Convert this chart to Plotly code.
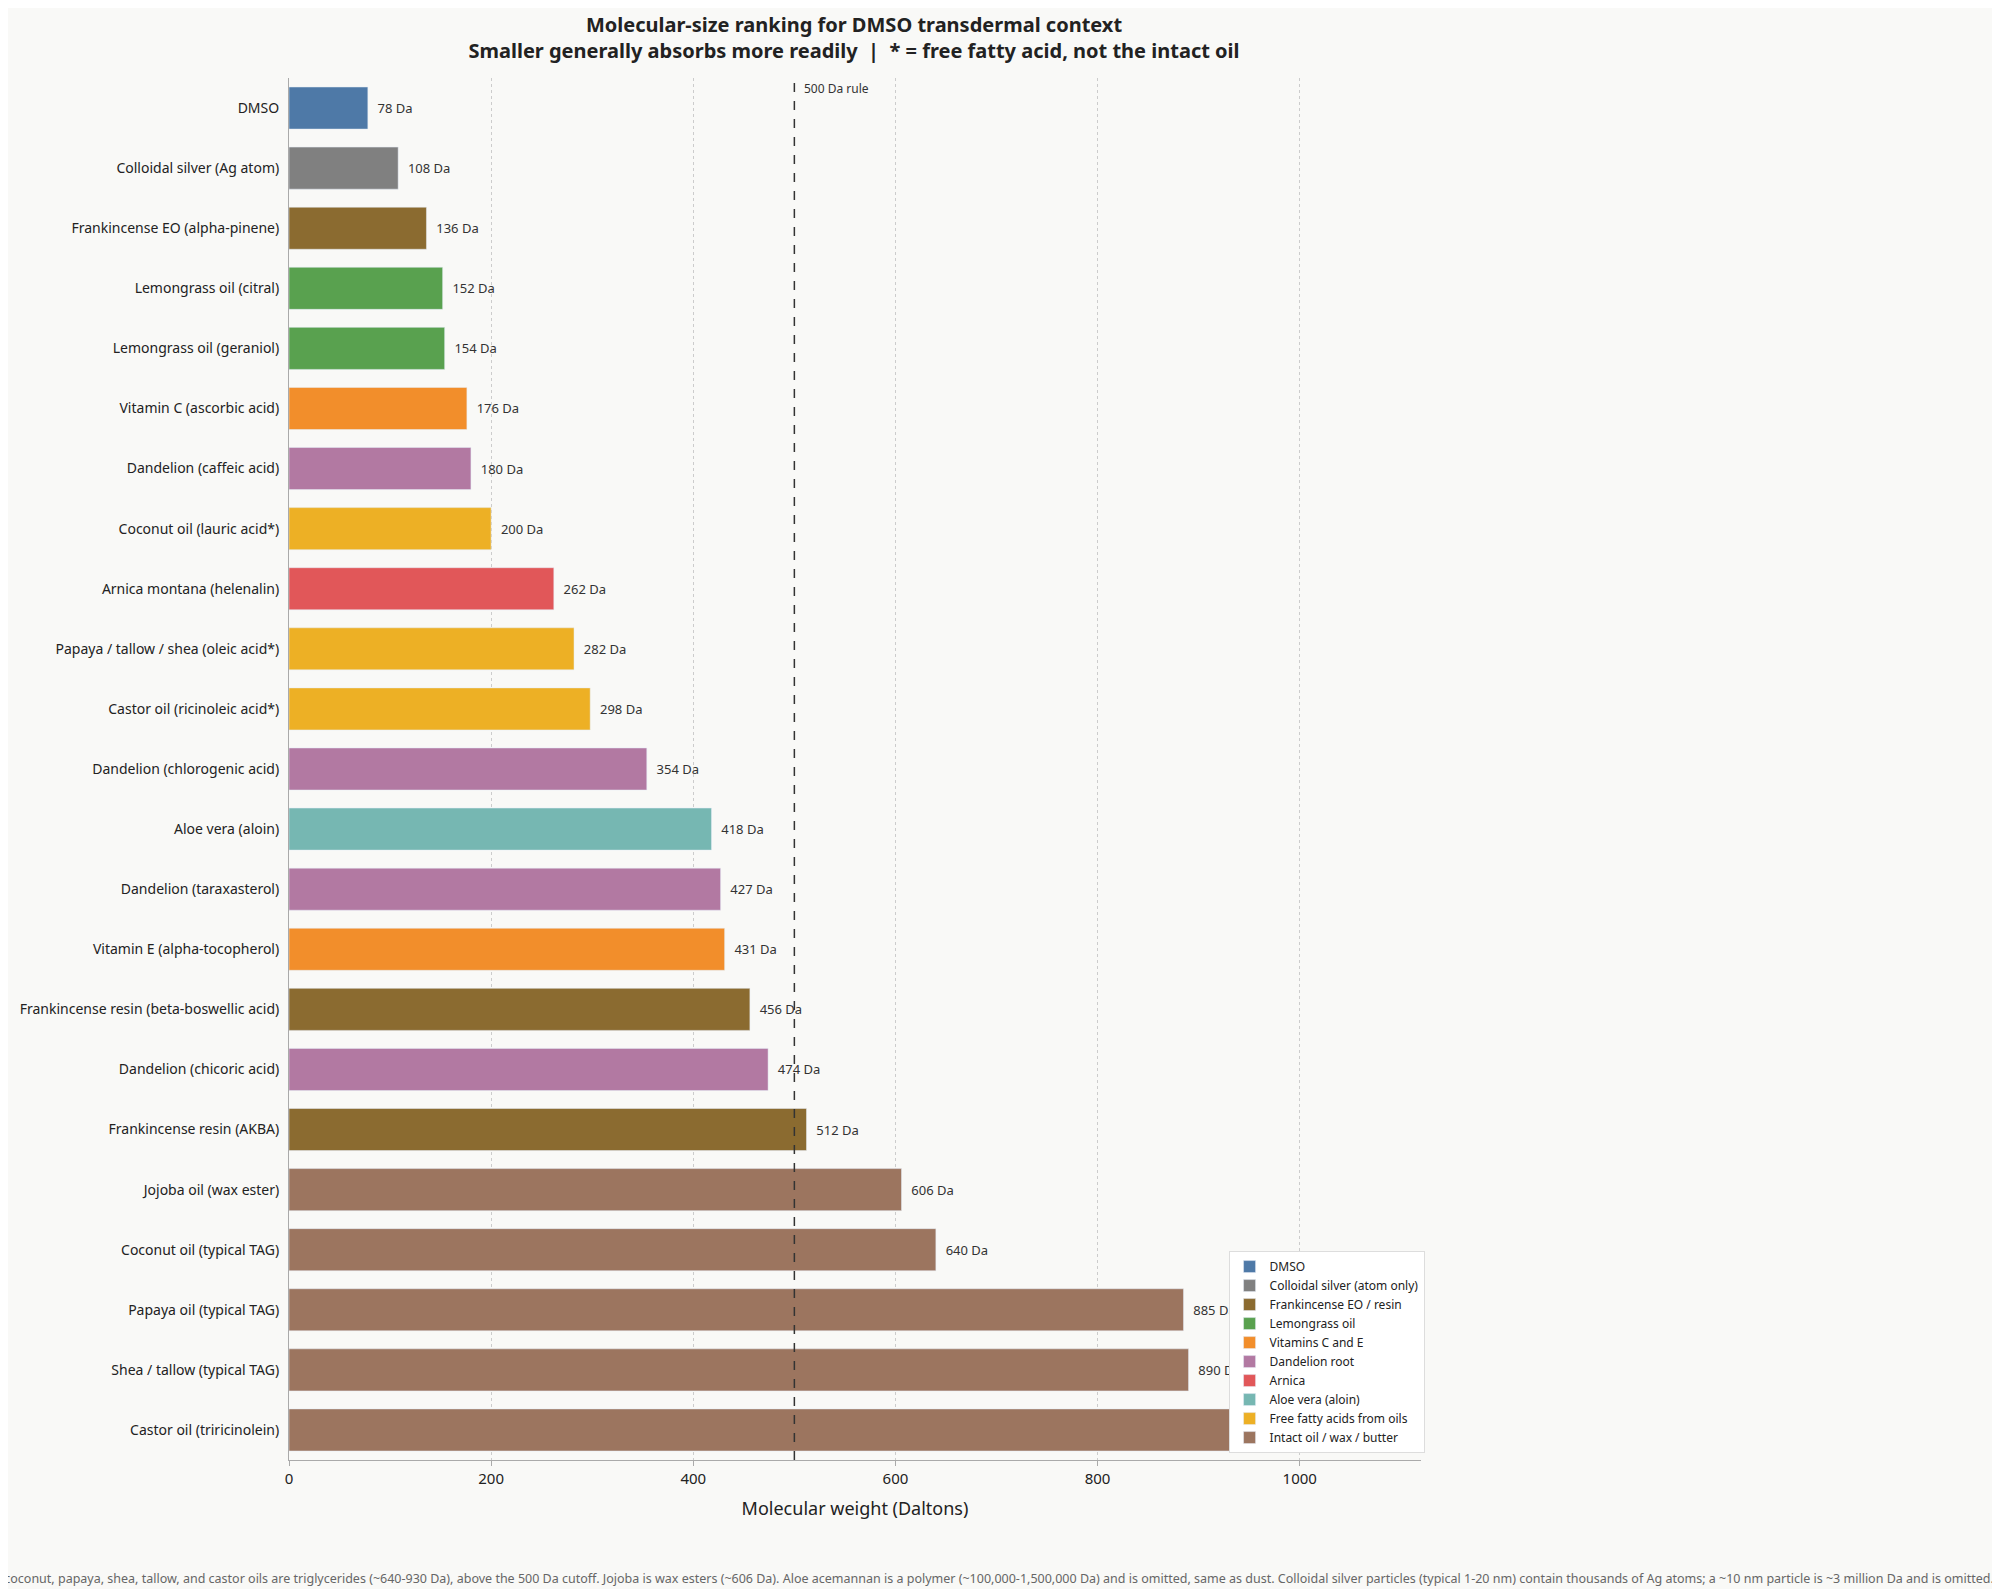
import plotly.graph_objects as go

labels = ["DMSO","Colloidal silver (Ag atom)","Frankincense EO (alpha-pinene)","Lemongrass oil (citral)",
 "Lemongrass oil (geraniol)","Vitamin C (ascorbic acid)","Dandelion (caffeic acid)","Coconut oil (lauric acid*)",
 "Arnica montana (helenalin)","Papaya / tallow / shea (oleic acid*)","Castor oil (ricinoleic acid*)",
 "Dandelion (chlorogenic acid)","Aloe vera (aloin)","Dandelion (taraxasterol)","Vitamin E (alpha-tocopherol)",
 "Frankincense resin (beta-boswellic acid)","Dandelion (chicoric acid)","Frankincense resin (AKBA)",
 "Jojoba oil (wax ester)","Coconut oil (typical TAG)","Papaya oil (typical TAG)","Shea / tallow (typical TAG)",
 "Castor oil (triricinolein)"]
values = [78,108,136,152,154,176,180,200,262,282,298,354,418,427,431,456,474,512,606,640,885,890,933]
groups = ["DMSO","Colloidal silver (atom only)","Frankincense EO / resin","Lemongrass oil","Lemongrass oil",
 "Vitamins C and E","Dandelion root","Free fatty acids from oils","Arnica","Free fatty acids from oils",
 "Free fatty acids from oils","Dandelion root","Aloe vera (aloin)","Dandelion root","Vitamins C and E",
 "Frankincense EO / resin","Dandelion root","Frankincense EO / resin","Intact oil / wax / butter",
 "Intact oil / wax / butter","Intact oil / wax / butter","Intact oil / wax / butter","Intact oil / wax / butter"]
group_order = ["DMSO","Colloidal silver (atom only)","Frankincense EO / resin","Lemongrass oil","Vitamins C and E",
 "Dandelion root","Arnica","Aloe vera (aloin)","Free fatty acids from oils","Intact oil / wax / butter"]
group_colors = ["#4e79a7","#808080","#8b6b30","#59a14f","#f28e2b","#b279a2","#e15759","#76b7b2","#edb025","#9c755f"]

fig = go.Figure()
for g, c in zip(group_order, group_colors):
    idx = [i for i, gg in enumerate(groups) if gg == g]
    fig.add_trace(go.Bar(
        y=[labels[i] for i in idx], x=[values[i] for i in idx], orientation="h", name=g,
        marker=dict(color=c), text=[f"  {values[i]} Da" for i in idx], textposition="outside",
        textfont=dict(size=13, color="#333"), cliponaxis=False, width=0.7))

fig.add_vline(x=500, line=dict(color="#333", width=1.5, dash="dash"))
fig.add_annotation(x=500, y=1, yref="paper", text="500 Da rule", showarrow=False,
                   xanchor="left", yanchor="top", xshift=8, font=dict(size=12, color="#333"))
fig.add_annotation(x=1.508, y=0, xref="paper", yref="paper", yanchor="middle", yshift=-118, xanchor="right", showarrow=False,
    text="Intact coconut, papaya, shea, tallow, and castor oils are triglycerides (~640-930 Da), above the 500 Da cutoff. Jojoba is wax esters (~606 Da). Aloe acemannan is a polymer (~100,000-1,500,000 Da) and is omitted, same as dust. Colloidal silver particles (typical 1-20 nm) contain thousands of Ag atoms; a ~10 nm particle is ~3 million Da and is omitted.",
    font=dict(size=12.5, color="#666"))

fig.update_layout(
    width=2000, height=1589, paper_bgcolor="#f9f9f7", plot_bgcolor="#f9f9f7",
    font=dict(family="Noto Sans", size=14, color="#222"),
    title=dict(text="<b>Molecular-size ranking for DMSO transdermal context<br>Smaller generally absorbs more readily  |  * = free fatty acid, not the intact oil</b>",
               x=0.423, xanchor="center", y=0.985, yanchor="top", font=dict(size=20)),
    margin=dict(l=277, r=587, t=70, b=137),
    barmode="relative", bargap=0.3,
    xaxis=dict(range=[0, 1120], title=dict(text="Molecular weight (Daltons)", font=dict(size=18)),
               showgrid=True, gridcolor="#ccc", griddash="dot", zeroline=False, showline=True,
               linecolor="#aaa", ticks="outside", tickcolor="#aaa", tickfont=dict(size=15), dtick=200),
    yaxis=dict(categoryorder="array", categoryarray=labels[::-1], showline=True, linecolor="#aaa",
               ticks="", tickfont=dict(size=14), ticklabelstandoff=6),
    legend=dict(x=0.83, y=0.005, xanchor="left", yanchor="bottom", bgcolor="#ffffff",
                bordercolor="#ddd", borderwidth=1, font=dict(size=12), traceorder="normal"),
)
fig.write_html("out.html")
